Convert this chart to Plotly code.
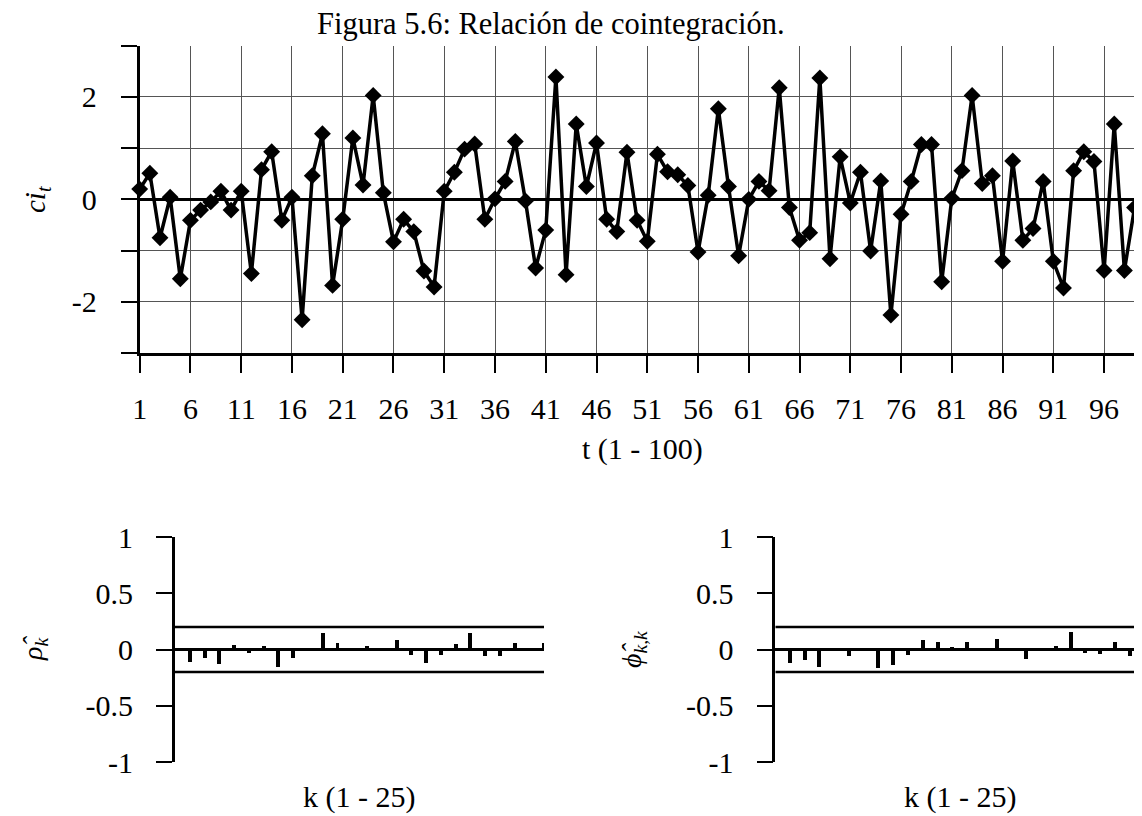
import plotly.graph_objects as go

# ---------------- data ----------------
t = list(range(1, 101))
ci = [0.20, 0.51, -0.75, 0.04, -1.55, -0.41, -0.21, -0.05, 0.16, -0.21,
      0.16, -1.45, 0.58, 0.93, -0.41, 0.04, -2.35, 0.46, 1.28, -1.68,
      -0.39, 1.20, 0.28, 2.03, 0.13, -0.83, -0.39, -0.63, -1.40, -1.71,
      0.16, 0.53, 0.98, 1.08, -0.39, 0.01, 0.35, 1.13, -0.03, -1.34,
      -0.60, 2.39, -1.47, 1.47, 0.25, 1.10, -0.39, -0.63, 0.92, -0.41,
      -0.82, 0.88, 0.54, 0.48, 0.27, -1.03, 0.08, 1.77, 0.25, -1.10,
      0.00, 0.35, 0.17, 2.18, -0.16, -0.80, -0.65, 2.37, -1.16, 0.83,
      -0.07, 0.53, -1.01, 0.36, -2.26, -0.29, 0.35, 1.07, 1.07, -1.61,
      0.02, 0.56, 2.03, 0.31, 0.46, -1.21, 0.75, -0.80, -0.57, 0.35,
      -1.21, -1.73, 0.56, 0.93, 0.74, -1.39, 1.47, -1.39, -0.16, -0.71]

k = list(range(1, 26))
acf = [-0.113, -0.074, -0.133, 0.036, -0.033, 0.030, -0.154, -0.077, 0.005, 0.148,
       0.056, 0.003, 0.027, 0.004, 0.086, -0.047, -0.118, -0.053, 0.050, 0.148,
       -0.062, -0.062, 0.062, -0.015, 0.059]
pacf = [-0.119, -0.089, -0.157, -0.005, -0.059, 0.003, -0.163, -0.139, -0.053, 0.083,
        0.065, 0.020, 0.068, 0.015, 0.089, 0.003, -0.080, -0.015, 0.030, 0.157,
        -0.030, -0.039, 0.068, -0.059, 0.015]
conf = 0.2  # 2/sqrt(n), n = 100

xticks_top = [1, 6, 11, 16, 21, 26, 31, 36, 41, 46, 51, 56, 61, 66, 71, 76, 81, 86, 91, 96, 100]
xticktext_top = [str(v) for v in xticks_top[:-1]] + [""]
yticks_top = [-3, -2, -1, 0, 1, 2, 3]
yticktext_top = ["", "-2", "", "0", "", "2", ""]
yticks_bot = [-1, -0.5, 0, 0.5, 1]
yticktext_bot = ["-1", "-0.5", "0", "0.5", "1"]

title_text = "Figura 5.6: Relación de cointegración."
xtitle_top = "t (1 - 100)"
xtitle_bot = "k (1 - 25)"

# ---------------- layout geometry ----------------
W, H = 1142, 816
FONT = "Liberation Serif"

def px_x(p):
    return p / W

def px_y(p):
    return 1 - p / H

fig = go.Figure()

fig.add_trace(go.Scatter(
    x=t, y=ci, mode="lines+markers",
    line=dict(color="black", width=3.5),
    marker=dict(symbol="diamond", size=13, color="black"),
    xaxis="x", yaxis="y", showlegend=False, cliponaxis=False))

for vals, xa, ya in [(acf, "x2", "y2"), (pacf, "x3", "y3")]:
    fig.add_trace(go.Bar(x=k, y=vals, width=0.27, marker=dict(color="black", line=dict(width=0)),
                         xaxis=xa, yaxis=ya, showlegend=False))
    for c in (conf, -conf):
        fig.add_trace(go.Scatter(x=[0, 25], y=[c, c], mode="lines",
                                 line=dict(color="black", width=2.5),
                                 xaxis=xa, yaxis=ya, showlegend=False))

tickfont = dict(family=FONT, size=30, color="black")

fig.update_layout(
    width=W, height=H,
    margin=dict(l=0, r=0, t=0, b=0, autoexpand=False),
    paper_bgcolor="white", plot_bgcolor="white",
    font=dict(family=FONT, color="black"),
    bargap=0,
    xaxis=dict(domain=[px_x(131.7), px_x(1136.7)], range=[1, 100], automargin=False,
               tickvals=xticks_top, ticktext=xticktext_top, tickfont=tickfont,
               ticks="outside", ticklen=17, tickwidth=2, tickcolor="black",
               ticklabelstandoff=10,
               showgrid=True, gridcolor="#555555", gridwidth=1,
               showline=True, linecolor="black", linewidth=3,
               zeroline=False, anchor="y"),
    yaxis=dict(domain=[px_y(345), px_y(37.7)], range=[-3, 3], automargin=False,
               tickvals=yticks_top, ticktext=yticktext_top, tickfont=tickfont,
               ticks="outside", ticklen=16, tickwidth=2, tickcolor="black",
               ticklabelstandoff=18,
               showgrid=True, gridcolor="#555555", gridwidth=1,
               showline=True, linecolor="black", linewidth=3,
               zeroline=True, zerolinecolor="black", zerolinewidth=3, anchor="x"),
)

for xa, ya, x0, x1 in [("xaxis2", "yaxis2", 166.7, 536.0), ("xaxis3", "yaxis3", 767.3, 1136.7)]:
    fig.layout[xa] = dict(domain=[px_x(x0), px_x(x1)], range=[0, 25], automargin=False,
                          showticklabels=False, ticks="", showgrid=False,
                          showline=False, zeroline=False,
                          anchor="y" + ya[-1])
    fig.layout[ya] = dict(domain=[px_y(754), px_y(529)], range=[-1, 1], automargin=False,
                          tickvals=yticks_bot, ticktext=yticktext_bot, tickfont=tickfont,
                          ticks="outside", ticklen=16, tickwidth=2, tickcolor="black",
                          ticklabelstandoff=17,
                          showgrid=False, showline=True, linecolor="black", linewidth=2.5,
                          zeroline=True, zerolinecolor="black", zerolinewidth=2.5,
                          anchor="x" + xa[-1])

def label(text, xp, yp, size, angle=0):
    return dict(text=text, x=px_x(xp), y=px_y(yp), xref="paper", yref="paper",
                xanchor="center", yanchor="middle", textangle=angle, showarrow=False,
                font=dict(family=FONT, size=size, color="black"))

ann = [
    label(title_text, 543, 16, 30.5),
    label("<i>ci</i><sub><i>t</i></sub>", 29, 191, 29, -90),
    label(xtitle_top, 634, 441, 30),
    label("<i>ρ̂</i><sub><i>k</i></sub>", 26, 641, 28, -90),
    label("<i>ϕ̂</i><sub><i>k,k</i></sub>", 625, 642, 28, -90),
    label(xtitle_bot, 351, 789, 30),
    label(xtitle_bot, 952, 789, 30),
]
fig.update_layout(annotations=ann)

fig.write_html("out.html")
